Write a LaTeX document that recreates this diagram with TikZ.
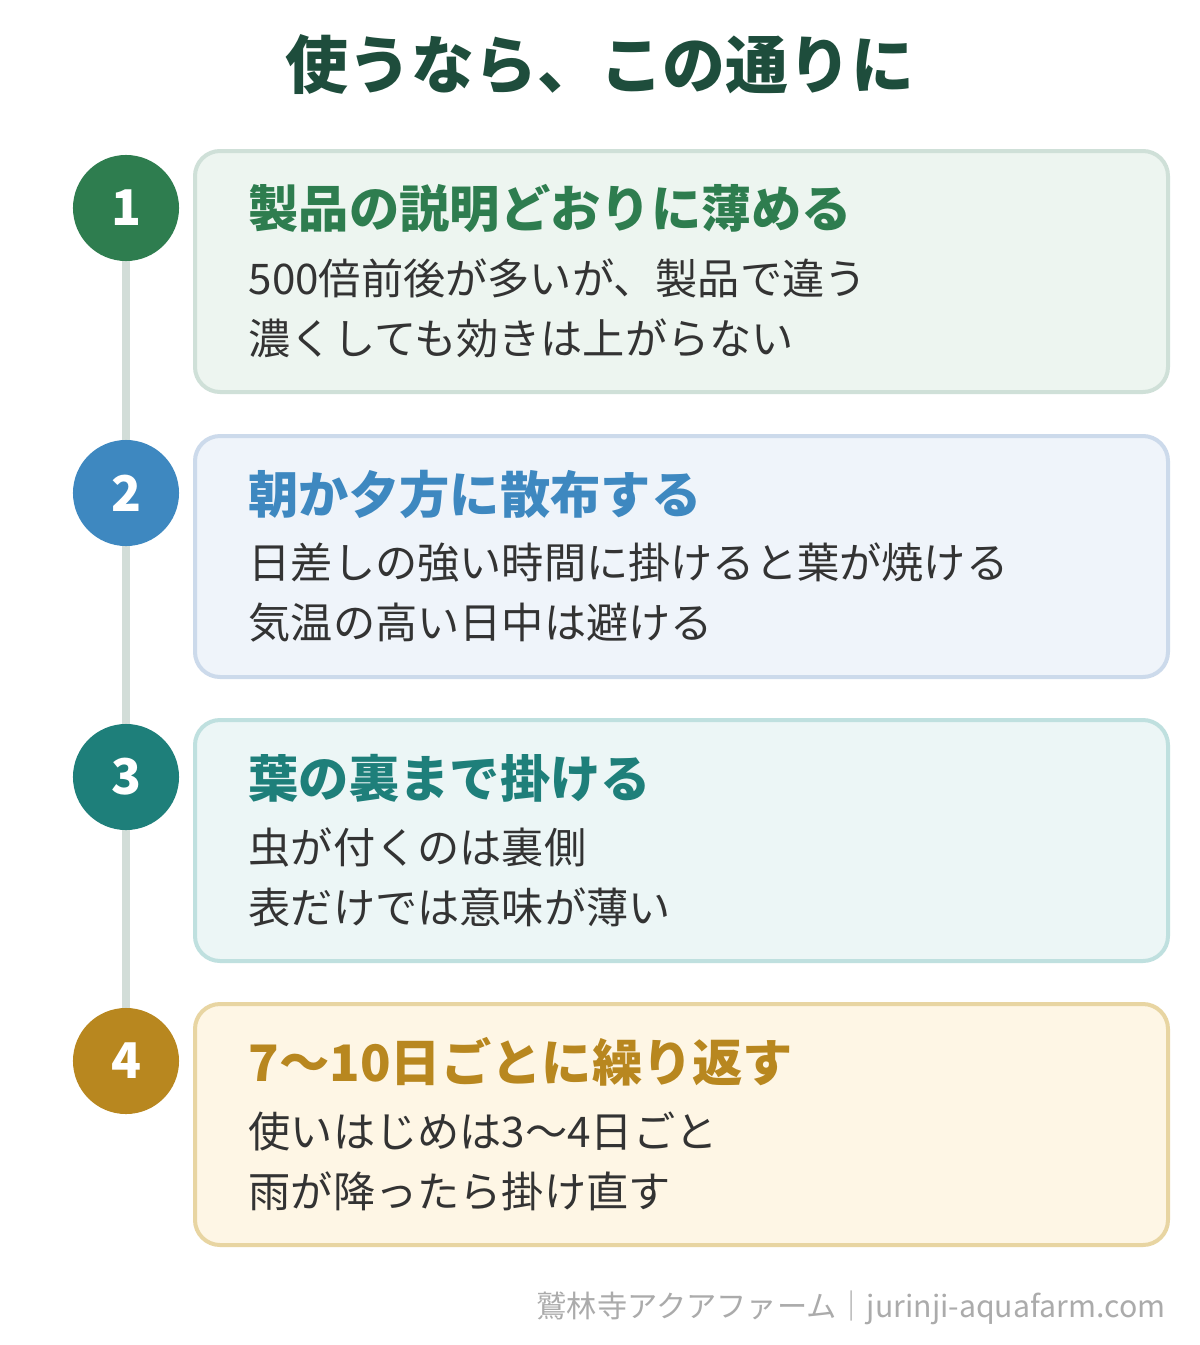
\documentclass[tikz,border=0pt]{standalone}
\usepackage{fontspec}
\setmainfont{Noto Sans CJK JP}
\usetikzlibrary{positioning}
\definecolor{titlegreen}{HTML}{1E4D3C}
\definecolor{cgreen}{HTML}{2E7D4F}
\definecolor{cblue}{HTML}{3E88C0}
\definecolor{cteal}{HTML}{1E7F7A}
\definecolor{cgold}{HTML}{B8871F}
\definecolor{fgreen}{HTML}{EDF5F0}
\definecolor{fblue}{HTML}{EFF4FA}
\definecolor{fteal}{HTML}{ECF6F6}
\definecolor{fgold}{HTML}{FEF6E5}
\definecolor{bgreen}{HTML}{CFE0D8}
\definecolor{bblue}{HTML}{CCDAEB}
\definecolor{bteal}{HTML}{BFE0DF}
\definecolor{bgold}{HTML}{E8D5A2}
\definecolor{bodytext}{HTML}{333333}
\definecolor{linegray}{HTML}{D2DDD8}

\begin{document}
\begin{tikzpicture}[x=0.01cm,y=-0.01cm,
    step node/.style={circle,minimum size=1.06cm,inner sep=0pt,text=white,font=\fontsize{14}{14}\selectfont\bfseries},
    card/.style={draw,line width=0.04cm,rounded corners=0.25cm},
    head/.style={anchor=west,inner sep=0pt,font=\fontsize{14.3}{15}\selectfont\bfseries},
    body/.style={anchor=west,inner sep=0pt,text=bodytext,font=\fontsize{12}{13}\selectfont}]

  \useasboundingbox[fill=white] (0,0) rectangle (1200,1345);

  \node[text=titlegreen,font=\fontsize{17.9}{18}\selectfont\bfseries] (title) at (600,65) {使うなら、この通りに};

  \draw[linegray,line width=0.08cm] (126,208) -- (126,1062);

  \foreach \y/\c/\f/\b/\n/\h/\la/\lb in {
      151/cgreen/fgreen/bgreen/1/製品の説明どおりに薄める/500倍前後が多いが、製品で違う/濃くしても効きは上がらない,
      436/cblue/fblue/bblue/2/朝か夕方に散布する/日差しの強い時間に掛けると葉が焼ける/気温の高い日中は避ける,
      720/cteal/fteal/bteal/3/葉の裏まで掛ける/虫が付くのは裏側/表だけでは意味が薄い,
      1004/cgold/fgold/bgold/4/7〜10日ごとに繰り返す/使いはじめは3〜4日ごと/雨が降ったら掛け直す}{
    \draw[card,draw=\b,fill=\f] (195,\y) rectangle (1168,\y+241);
    \node[step node,fill=\c] (step\n) at (126,\y+57) {\n};
    \node[head,text=\c] (head\n) at (248,\y+58) {\h};
    \node[body] (first\n) at (248,\y+127) {\la};
    \node[body] (second\n) at (248,\y+187) {\lb};
  }

  \node[anchor=east,inner sep=0pt,text=black!33,font=\fontsize{8.6}{9}\selectfont] (footer) at (1166,1308) {鷲林寺アクアファーム｜jurinji-aquafarm.com};
\end{tikzpicture}
\end{document}
